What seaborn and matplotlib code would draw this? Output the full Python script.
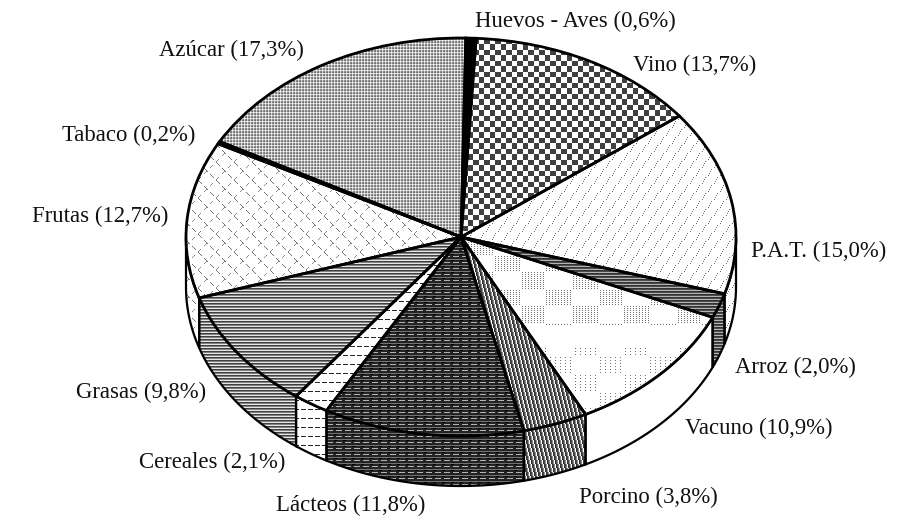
import numpy as np
import matplotlib
matplotlib.use('Agg')
import matplotlib.pyplot as plt
import seaborn as sns

# Shares, clockwise from the top
categories = ['Huevos - Aves', 'Vino', 'P.A.T.', 'Arroz', 'Vacuno', 'Porcino',
              'Lácteos', 'Cereales', 'Grasas', 'Frutas', 'Tabaco', 'Azúcar']
shares = [0.6, 13.7, 15.0, 2.0, 10.9, 3.8, 11.8, 2.1, 9.8, 12.7, 0.2, 17.3]
share_labels = ['0,6', '13,7', '15,0', '2,0', '10,9', '3,8', '11,8', '2,1', '9,8', '12,7', '0,2', '17,3']

# Label anchors in pixels (left edge, vertical centre)
label_xy = [(475, 21), (633, 65), (751, 251), (735, 367), (685, 428), (579, 497),
            (276, 505), (139, 462), (76, 392), (32, 216), (62, 135), (159, 50)]

W, H = 919, 518
CX, CY, RX, RY, DEPTH = 461, 237, 275, 199, 50
START = 89

sns.set_theme(style='white')
plt.rcParams['font.family'] = ['Liberation Serif', 'DejaVu Serif']


# Small grey tiles, repeated to make the print-like fill patterns
def tile_solid(v):
    return np.array([[v]])

def tile_azucar():
    return np.array([[.42, .82, .5], [.8, 1., .82], [.5, .82, .58]])

def tile_vino():
    y, x = np.mgrid[0:11, 0:11]
    return np.where((x < 6) ^ (y < 6), .25, 1.)

def tile_pat():
    # short steep dashes, far apart
    t = np.ones((16, 12))
    for i in [0, 1, 2, 3]:
        t[i * 2, i] = .4
        t[(i * 2 + 8) % 16, i + 6] = .45
    return t[::-1]

def tile_rows(vals):
    return np.array(vals)[:, None]

def tile_slant():
    return np.array([np.roll([.2, .28, .55, 1.], i // 4) for i in range(16)])

def tile_cereales():
    t = np.ones((9, 7))
    t[4, :5] = .15
    return t

def tile_lacteos():
    t = np.full((6, 9), .14)
    t[1, :] = .45
    t[4, 3:] = .7
    t[2, 1:4] = 0
    return t

def tile_frutas():
    # thin broken diagonal cross lines
    t = np.ones((18, 18))
    for i in range(0, 18):
        if i % 6 < 4:
            t[i, i] = .45
        if (i + 3) % 6 < 3:
            t[i, 17 - i] = .55
    return t

def tile_vacuno():
    # patchy dots filling the upper part of the slice, thinner lower down
    y, x = np.mgrid[0:H, 0:W]
    patches = (x // 26 + y // 17) % 2 == 0
    upper = (y < 325) & patches & (x % 3 == 0) & (y % 2 == 0)
    lower = (y > 345) & patches & (x % 5 == 0) & (y % 3 == 0)
    return np.where(upper | lower, .45, 1.)


tops = [tile_solid(0), tile_vino(), tile_pat(), tile_rows([.2, .3, .7]), tile_vacuno(),
        tile_slant(), tile_lacteos(), tile_cereales(), tile_rows([.25, .5, .9]),
        tile_frutas(), tile_solid(0), tile_azucar()]
sides = list(tops)
sides[4] = tile_solid(1.)

fig = plt.figure(figsize=(W / 100, H / 100), dpi=100)
ax = fig.add_axes([0, 0, 1, 1])

wedges, _ = ax.pie(shares, startangle=START, counterclock=False, radius=1,
                   wedgeprops={'linewidth': 2, 'edgecolor': 'black', 'facecolor': 'none', 'zorder': 4})
ax.set_aspect('auto')

# One data unit is RX pixels across and RY pixels up
xlim = (-CX / RX, (W - CX) / RX)
ylim = ((CY - H) / RY, CY / RY)


def paint(patch, tile, z):
    ny = H // tile.shape[0] + 1
    nx = W // tile.shape[1] + 1
    full = np.tile(tile, (ny, nx))[:H, :W]
    im = ax.imshow(full, cmap='gray', vmin=0, vmax=1, extent=(*xlim, ylim[0], ylim[1]),
                   origin='upper', aspect='auto', interpolation='nearest', zorder=z)
    im.set_clip_path(patch)


# Rim of the disc: only the part of each slice facing the viewer
d = DEPTH / RY
edges = np.cumsum([0] + shares) / sum(shares) * 360 + (90 - START)
for i, wedge in enumerate(wedges):
    a0, a1 = max(edges[i], 90), min(edges[i + 1], 270)
    if a1 > a0:
        t = np.radians(np.linspace(a0, a1, 60))
        x, y = np.sin(t), np.cos(t)
        rim = ax.fill(np.r_[x, x[::-1]], np.r_[y, y[::-1] - d], facecolor='none',
                      edgecolor='black', linewidth=1.6, zorder=2)[0]
        paint(rim, sides[i], 1)
    paint(wedge, tops[i], 3)

ax.set_xlim(*xlim)
ax.set_ylim(*ylim)
ax.axis('off')

for name, share, (px, py) in zip(categories, share_labels, label_xy):
    fig.text(px / W, 1 - py / H, f'{name} ({share}%)', fontsize=16.4, color='#111111',
             ha='left', va='center')

plt.savefig('out.png', dpi=100)
